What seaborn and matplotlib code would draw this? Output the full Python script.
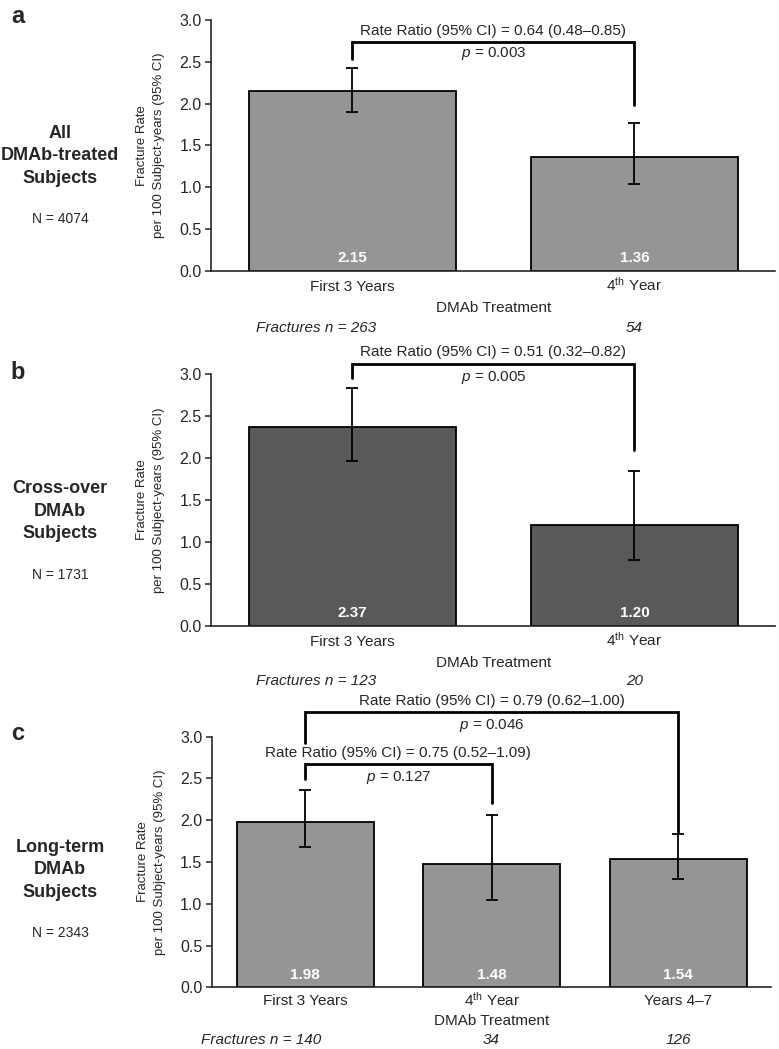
import numpy as np
import pandas as pd
import matplotlib
matplotlib.use("Agg")
import matplotlib.pyplot as plt
import seaborn as sns

# podaci po panelima
cat_ab = ["First 3 Years", "4$^{\\rm th}$ Year"]
cat_c = ["First 3 Years", "4$^{\\rm th}$ Year", "Years 4\u20137"]

rate_a = [2.15, 1.36]
lo_a = [1.90, 1.04]
hi_a = [2.43, 1.77]
n_a = [263, 54]

rate_b = [2.37, 1.20]
lo_b = [1.97, 0.78]
hi_b = [2.84, 1.85]
n_b = [123, 20]

rate_c = [1.98, 1.48, 1.54]
lo_c = [1.68, 1.05, 1.30]
hi_c = [2.36, 2.06, 1.84]
n_c = [140, 34, 126]

group_labels = ["All\nDMAb-treated\nSubjects", "Cross-over\nDMAb\nSubjects", "Long-term\nDMAb\nSubjects"]
group_n = ["N = 4074", "N = 1731", "N = 2343"]
panel_letters = ["a", "b", "c"]

ratio_a = ["Rate Ratio (95% CI) = 0.64 (0.48\u20130.85)"]
p_a = ["0.003"]
ratio_b = ["Rate Ratio (95% CI) = 0.51 (0.32\u20130.82)"]
p_b = ["0.005"]
ratio_c = ["Rate Ratio (95% CI) = 0.75 (0.52\u20131.09)", "Rate Ratio (95% CI) = 0.79 (0.62\u20131.00)"]
p_c = ["0.127", "0.046"]

sns.set_style("ticks")
plt.rcParams['font.family'] = ['Liberation Sans', 'DejaVu Sans']
plt.rcParams['mathtext.fontset'] = 'custom'
plt.rcParams['mathtext.rm'] = 'Liberation Sans'
plt.rcParams['mathtext.it'] = 'Liberation Sans:italic'
plt.rcParams['mathtext.bf'] = 'Liberation Sans:bold'

fig = plt.figure(figsize=(7.79, 10.49), dpi=100)


def panel(rect, cats, rate, lo, hi, nfrac, color, brackets, t_off=-14.5, d_off=-27, n_off=-41):
    ax = fig.add_axes(rect)
    df = pd.DataFrame({"cat": cats, "rate": rate})
    sns.barplot(data=df, x="cat", y="rate", order=cats, color=color, saturation=1,
                width=0.735, edgecolor="black", linewidth=1.3, errorbar=None, ax=ax)
    x = np.arange(len(cats))
    r = np.array(rate)
    ax.errorbar(x, r, yerr=[r - np.array(lo), np.array(hi) - r], fmt="none",
                ecolor="black", elinewidth=1.3, capsize=4.5, capthick=1.3)
    for xi, v in zip(x, rate):
        ax.text(xi, 0.15, f"{v:.2f}", ha="center", va="center", color="white",
                fontsize=11, fontweight="bold")
    ax.set_xlim(-0.5, len(cats) - 0.5)
    ax.set_ylim(0, 3)
    ax.set_yticks(np.arange(0, 3.01, 0.5))
    ax.set_yticklabels([f"{t:.1f}" for t in np.arange(0, 3.01, 0.5)], fontsize=11.5)
    ax.tick_params(axis="y", length=4, width=1.1, pad=3)
    ax.tick_params(axis="x", length=0)
    ax.set_xticklabels([])
    ax.set_xlabel("")
    ax.set_ylabel("Fracture Rate\nper 100 Subject-years (95% CI)", fontsize=9.5,
                  linespacing=1.55)
    ax.yaxis.set_label_coords(-0.082, 0.5)
    sns.despine(ax=ax)
    for s in ["left", "bottom"]:
        ax.spines[s].set_linewidth(1.2)
    # oznake kategorija na zajednickoj baznoj liniji
    for xi, c in zip(x, cats):
        ax.annotate(c, xy=(xi, 0), xycoords=("data", "axes fraction"),
                    xytext=(0, t_off), textcoords="offset points", ha="center",
                    va="baseline", fontsize=11)
    ax.annotate("DMAb Treatment", xy=((len(cats) - 1) / 2, 0), xycoords=("data", "axes fraction"),
                xytext=(0, d_off), textcoords="offset points", ha="center", va="center", fontsize=11)
    for i, n in enumerate(nfrac):
        if i == 0:
            ax.annotate(f"Fractures n = {n}", xy=(0.085, 0), xycoords=("data", "axes fraction"),
                        xytext=(0, n_off), textcoords="offset points", ha="right", va="center",
                        fontsize=11, style="italic")
        else:
            ax.annotate(f"{n}", xy=(i, 0), xycoords=("data", "axes fraction"),
                        xytext=(0, n_off), textcoords="offset points", ha="center", va="center",
                        fontsize=11, style="italic")
    # zagrade sa odnosom stopa
    for (x0, x1, top, yl, yr, ty, py, txt, pv) in brackets:
        ax.plot([x0, x0, x1, x1], [yl, top, top, yr], color="black", lw=2.0,
                clip_on=False, solid_joinstyle="miter")
        ax.text((x0 + x1) / 2, ty, txt, ha="center", va="center", fontsize=11, clip_on=False)
        ax.text((x0 + x1) / 2, py, "$\\mathit{p}$ = " + pv, ha="center", va="center",
                fontsize=11, clip_on=False)
    return ax


panel([0.2715, 0.7419, 0.724, 0.239], cat_ab, rate_a, lo_a, hi_a, n_a, "#959595",
      [(0, 1, 2.74, 2.53, 1.98, 2.87, 2.60, ratio_a[0], p_a[0])])
panel([0.2715, 0.4035, 0.724, 0.2397], cat_ab, rate_b, lo_b, hi_b, n_b, "#595959",
      [(0, 1, 3.12, 2.95, 2.10, 3.26, 2.96, ratio_b[0], p_b[0])], n_off=-39.5)
panel([0.2721, 0.0588, 0.718, 0.2389], cat_c, rate_c, lo_c, hi_c, n_c, "#959595",
      [(0, 1, 2.67, 2.49, 2.21, 2.81, 2.51, ratio_c[0], p_c[0]),
       (0, 2, 3.29, 2.92, 1.86, 3.43, 3.14, ratio_c[1], p_c[1])],
      t_off=-13, d_off=-24.5, n_off=-38)

letter_y = [1 - 23 / 1049, 1 - 379 / 1049, 1 - 740 / 1049]
group_y = [1 - 156 / 1049, 1 - 511 / 1049, 1 - 870 / 1049]
n_y = [1 - 219 / 1049, 1 - 575 / 1049, 1 - 933 / 1049]
for i in range(3):
    fig.text(0.014, letter_y[i], panel_letters[i], fontsize=17, fontweight="bold",
             ha="left", va="baseline")
    fig.text(0.077, group_y[i], group_labels[i], fontsize=13, fontweight="bold",
             ha="center", va="center", linespacing=1.45)
    fig.text(0.077, n_y[i], group_n[i], fontsize=10, ha="center", va="center")

fig.savefig("out.png", dpi=100)
